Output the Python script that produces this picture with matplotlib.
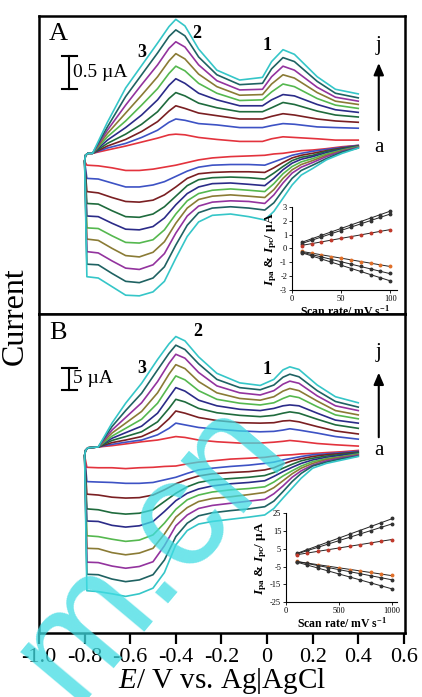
import numpy as np
import matplotlib
matplotlib.use("Agg")
import matplotlib.pyplot as plt

plt.rcParams["font.family"] = "Liberation Serif"
plt.rcParams["axes.unicode_minus"] = False
plt.rcParams["mathtext.fontset"] = "custom"
plt.rcParams["mathtext.rm"] = "Liberation Serif"
plt.rcParams["mathtext.it"] = "Liberation Serif:italic"
plt.rcParams["mathtext.bf"] = "Liberation Serif:bold"
plt.rcParams["mathtext.bfit"] = "Liberation Serif:italic:bold"

# ── voltammograms a..j (inner to outer) ─────────────────────────────────────
CURVE_COLORS = ["#e3333d", "#3d52c4", "#7a1f22", "#1f6b3d", "#2b2b88",
                "#55b84f", "#8a7b35", "#93339e", "#1f6262", "#35c6c8"]

# potential (V) at which the current is read on each sweep
LEAD_E = [-0.800, -0.796, -0.785]
ANODIC_E_A = [-0.765, -0.70, -0.62, -0.55, -0.48, -0.43, -0.40, -0.36, -0.30,
              -0.22, -0.12, -0.02, 0.02, 0.07, 0.12, 0.22, 0.30, 0.40]
ANODIC_E_B = [-0.74, -0.68, -0.62, -0.55, -0.48, -0.43, -0.40, -0.36, -0.30,
              -0.22, -0.12, -0.03, 0.03, 0.07, 0.10, 0.14, 0.22, 0.30, 0.40]
CATHODIC_E = [0.40, 0.33, 0.26, 0.20, 0.15, 0.11, 0.07, 0.03, -0.01, -0.08,
              -0.16, -0.24, -0.30, -0.35, -0.40, -0.45, -0.50, -0.56, -0.62,
              -0.68, -0.74, -0.79]

# panel A, current in uA
LEAD_I_A = [-0.12, -0.03, 0.0]
ANODIC_A = [
    [0, 0.05, 0.11, 0.17, 0.23, 0.28, 0.29, 0.28, 0.24, 0.21, 0.18, 0.18, 0.22, 0.25, 0.24, 0.22, 0.20, 0.20],
    [0, 0.08, 0.15, 0.24, 0.35, 0.47, 0.52, 0.50, 0.45, 0.43, 0.39, 0.39, 0.42, 0.45, 0.44, 0.40, 0.39, 0.38],
    [0, 0.11, 0.21, 0.33, 0.48, 0.64, 0.72, 0.68, 0.61, 0.57, 0.52, 0.52, 0.56, 0.60, 0.58, 0.52, 0.49, 0.47],
    [0, 0.15, 0.29, 0.44, 0.63, 0.83, 0.92, 0.87, 0.76, 0.69, 0.63, 0.63, 0.69, 0.77, 0.74, 0.64, 0.58, 0.55],
    [0, 0.20, 0.39, 0.58, 0.81, 1.03, 1.13, 1.06, 0.91, 0.81, 0.72, 0.72, 0.81, 0.89, 0.87, 0.74, 0.66, 0.62],
    [0, 0.25, 0.49, 0.73, 0.98, 1.21, 1.32, 1.25, 1.06, 0.91, 0.80, 0.81, 0.93, 1.05, 1.01, 0.83, 0.73, 0.68],
    [0, 0.30, 0.61, 0.88, 1.16, 1.40, 1.51, 1.43, 1.20, 1.01, 0.88, 0.89, 1.05, 1.19, 1.14, 0.92, 0.79, 0.74],
    [0, 0.35, 0.73, 1.04, 1.34, 1.59, 1.69, 1.61, 1.34, 1.10, 0.96, 0.97, 1.16, 1.32, 1.26, 1.00, 0.85, 0.79],
    [0, 0.40, 0.86, 1.19, 1.52, 1.77, 1.87, 1.78, 1.46, 1.19, 1.04, 1.06, 1.28, 1.45, 1.39, 1.09, 0.91, 0.84],
    [0, 0.47, 0.99, 1.33, 1.67, 1.92, 2.03, 1.93, 1.58, 1.26, 1.11, 1.15, 1.39, 1.57, 1.50, 1.16, 0.97, 0.90],
]
CATHODIC_A = [
    [0.12, 0.10, 0.07, 0.05, 0.04, 0.02, 0.00, -0.01, -0.03, -0.04, -0.05, -0.07, -0.10, -0.14, -0.18, -0.21, -0.24, -0.26, -0.26, -0.22, -0.19, -0.18],
    [0.12, 0.09, 0.06, 0.03, 0.00, -0.03, -0.08, -0.13, -0.18, -0.17, -0.17, -0.18, -0.21, -0.27, -0.35, -0.43, -0.48, -0.51, -0.51, -0.45, -0.39, -0.38],
    [0.11, 0.08, 0.04, 0.00, -0.03, -0.07, -0.14, -0.22, -0.29, -0.28, -0.28, -0.29, -0.31, -0.38, -0.51, -0.63, -0.71, -0.74, -0.73, -0.67, -0.60, -0.58],
    [0.11, 0.07, 0.03, -0.03, -0.06, -0.11, -0.20, -0.30, -0.39, -0.37, -0.36, -0.37, -0.40, -0.49, -0.65, -0.81, -0.92, -0.97, -0.96, -0.87, -0.77, -0.76],
    [0.10, 0.06, 0.01, -0.05, -0.09, -0.15, -0.25, -0.38, -0.49, -0.47, -0.45, -0.46, -0.51, -0.61, -0.78, -0.98, -1.11, -1.16, -1.15, -1.06, -0.96, -0.95],
    [0.10, 0.05, -0.01, -0.08, -0.13, -0.20, -0.31, -0.46, -0.58, -0.56, -0.54, -0.56, -0.61, -0.72, -0.92, -1.16, -1.31, -1.36, -1.35, -1.25, -1.14, -1.13],
    [0.09, 0.04, -0.03, -0.11, -0.17, -0.25, -0.38, -0.55, -0.67, -0.65, -0.63, -0.65, -0.70, -0.83, -1.06, -1.34, -1.50, -1.57, -1.55, -1.44, -1.32, -1.30],
    [0.09, 0.03, -0.05, -0.14, -0.21, -0.30, -0.45, -0.63, -0.76, -0.73, -0.72, -0.74, -0.80, -0.95, -1.21, -1.52, -1.69, -1.76, -1.74, -1.63, -1.51, -1.49],
    [0.08, 0.02, -0.08, -0.18, -0.26, -0.38, -0.56, -0.75, -0.86, -0.83, -0.81, -0.83, -0.90, -1.09, -1.39, -1.72, -1.89, -1.96, -1.94, -1.82, -1.69, -1.68],
    [0.08, 0.00, -0.10, -0.23, -0.33, -0.48, -0.68, -0.88, -1.01, -0.96, -0.92, -0.94, -1.04, -1.26, -1.59, -1.94, -2.10, -2.16, -2.15, -2.02, -1.89, -1.87],
]

# panel B, current in uA
LEAD_I_B = [-2.0, -0.8, -0.2]
ANODIC_B = [
    [0, 0.3, 0.7, 1.2, 1.6, 2.1, 2.4, 2.2, 1.6, 1.2, 0.9, 0.9, 1.1, 1.3, 1.5, 1.3, 0.8, 0.5, 0.2],
    [0, 0.6, 1.1, 1.6, 2.8, 4.3, 5.5, 5.1, 4.5, 4.1, 3.7, 3.5, 3.6, 3.9, 4.2, 3.9, 3.2, 2.4, 1.8],
    [0, 1.0, 1.6, 2.4, 4.1, 6.5, 8.3, 7.8, 6.8, 6.1, 5.6, 5.5, 5.6, 6.0, 6.1, 5.8, 4.7, 3.7, 3.0],
    [0, 1.5, 2.4, 3.5, 5.8, 8.9, 11.0, 10.4, 8.9, 7.9, 7.3, 7.0, 7.3, 7.8, 8.1, 7.8, 6.4, 5.1, 4.3],
    [0, 2.0, 3.3, 4.8, 7.8, 11.5, 13.7, 12.9, 10.8, 9.5, 8.7, 8.4, 8.9, 9.5, 9.7, 9.5, 7.8, 6.2, 5.5],
    [0, 2.5, 4.3, 6.4, 10.1, 14.1, 16.4, 15.5, 13.0, 11.0, 10.1, 9.7, 10.2, 11.2, 11.8, 11.4, 9.3, 7.4, 6.5],
    [0, 3.2, 5.5, 8.2, 12.5, 16.8, 19.0, 18.1, 15.1, 12.5, 11.2, 10.8, 11.6, 12.9, 13.5, 13.0, 10.6, 8.4, 7.4],
    [0, 3.9, 6.8, 10.2, 15.1, 19.3, 21.4, 20.5, 17.2, 14.1, 12.5, 12.0, 13.0, 14.5, 15.2, 14.7, 11.8, 9.5, 8.4],
    [0, 4.7, 8.4, 12.4, 17.8, 21.6, 23.5, 22.5, 19.2, 15.6, 13.7, 13.2, 14.3, 16.1, 16.8, 16.2, 13.0, 10.5, 9.2],
    [0, 5.5, 10.1, 14.7, 20.2, 23.8, 25.5, 24.5, 20.8, 17.0, 14.8, 14.2, 15.6, 17.8, 18.5, 17.9, 14.3, 11.6, 10.2],
]
CATHODIC_B = [
    [-0.8, -1.1, -1.3, -1.5, -1.6, -1.8, -1.9, -2.1, -2.4, -2.6, -2.8, -3.2, -3.5, -3.9, -4.4, -4.5, -4.7, -4.8, -5.0, -4.8, -4.8, -4.7],
    [-1.0, -1.3, -1.6, -1.8, -2.2, -2.6, -3.0, -3.5, -3.8, -4.2, -4.5, -4.9, -5.3, -6.1, -7.0, -7.6, -8.2, -8.4, -8.4, -8.2, -8.1, -8.0],
    [-1.2, -1.5, -1.8, -2.2, -2.7, -3.2, -3.9, -4.8, -5.3, -5.7, -5.9, -6.2, -6.7, -7.5, -8.5, -9.9, -11.1, -11.7, -11.8, -11.6, -11.1, -10.9],
    [-1.3, -1.7, -2.1, -2.6, -3.2, -4.0, -4.9, -5.9, -6.6, -7.0, -7.3, -7.6, -8.2, -9.2, -10.7, -12.6, -14.5, -15.3, -15.5, -15.2, -14.5, -14.3],
    [-1.5, -1.9, -2.4, -3.0, -3.8, -4.7, -5.7, -6.8, -7.8, -8.2, -8.5, -9.0, -9.7, -10.7, -12.4, -14.9, -17.2, -18.2, -18.5, -18.1, -17.2, -17.1],
    [-1.6, -2.2, -2.7, -3.4, -4.4, -5.5, -6.7, -8.1, -9.2, -9.6, -9.9, -10.4, -11.1, -12.2, -14.4, -17.6, -20.3, -21.5, -21.8, -21.3, -20.7, -20.5],
    [-1.8, -2.3, -2.9, -3.8, -4.9, -6.2, -7.8, -9.4, -10.5, -11.0, -11.5, -11.9, -12.6, -14.0, -16.2, -20.1, -23.4, -24.5, -24.9, -24.4, -23.5, -23.4],
    [-1.9, -2.5, -3.2, -4.2, -5.5, -7.0, -9.0, -10.8, -12.1, -12.5, -13.0, -13.5, -14.2, -15.7, -18.2, -22.8, -26.5, -27.6, -28.0, -27.5, -26.7, -26.6],
    [-2.1, -2.7, -3.5, -4.4, -6.1, -8.0, -10.3, -12.5, -13.8, -14.3, -14.7, -15.2, -15.9, -17.6, -20.7, -26.1, -29.5, -30.7, -31.1, -30.5, -29.5, -29.4],
    [-2.2, -3.0, -3.8, -4.9, -7.2, -9.5, -11.8, -14.2, -15.7, -16.2, -16.7, -17.2, -17.8, -19.3, -22.6, -29.0, -32.6, -33.9, -34.5, -33.9, -33.4, -33.2],
]

# ── insets: peak currents vs scan rate ──────────────────────────────────────
RATE_A = [10, 20, 30, 40, 50, 60, 70, 80, 90, 100]
IPA_A = [
    [0.45, 0.70, 0.95, 1.20, 1.45, 1.70, 1.95, 2.20, 2.45, 2.70],
    [0.35, 0.60, 0.85, 1.05, 1.30, 1.55, 1.80, 2.00, 2.25, 2.50],
    [0.20, 0.35, 0.50, 0.60, 0.75, 0.85, 1.00, 1.10, 1.25, 1.35],
]
IPC_A = [
    [-0.20, -0.35, -0.45, -0.60, -0.70, -0.80, -0.95, -1.05, -1.20, -1.30],
    [-0.25, -0.45, -0.60, -0.80, -0.95, -1.15, -1.30, -1.50, -1.65, -1.80],
    [-0.30, -0.55, -0.75, -1.00, -1.20, -1.45, -1.65, -1.90, -2.10, -2.35],
]
RATE_B = [100, 200, 300, 400, 500, 600, 700, 800, 900, 1000]
IPA_B = [
    [2.5, 4.5, 6.5, 8.8, 11.0, 13.0, 15.0, 17.5, 19.5, 22.0],
    [2.0, 4.0, 5.8, 7.6, 9.5, 11.3, 13.2, 15.0, 17.0, 19.0],
    [1.5, 2.5, 3.5, 4.5, 5.5, 6.5, 7.3, 8.2, 9.2, 10.0],
]
IPC_B = [
    [-2.0, -3.0, -4.0, -5.0, -5.8, -6.7, -7.5, -8.3, -9.2, -10.0],
    [-2.2, -3.3, -4.5, -5.6, -6.7, -7.8, -9.0, -10.1, -11.3, -12.5],
    [-2.5, -4.2, -5.8, -7.5, -9.2, -10.8, -12.5, -14.2, -15.8, -17.5],
]
ANODIC_MARKERS = ["#333333", "#333333", "#c0392b"]
CATHODIC_MARKERS = ["#e0702a", "#333333", "#333333"]

E_TICKS = [-1.0, -0.8, -0.6, -0.4, -0.2, 0.0, 0.2, 0.4, 0.6]
E_TICK_LABELS = ["-1.0", "-0.8", "-0.6", "-0.4", "-0.2", "0", "0.2", "0.4", "0.6"]


def draw_cvs(ax, an_e, an_i, cat_i, lead_i):
    for k, color in enumerate(CURVE_COLORS):
        xs = CATHODIC_E + LEAD_E + an_e
        ys = cat_i[k] + lead_i + an_i[k]
        ax.plot(xs, ys, color=color, lw=1.2, solid_joinstyle="round", zorder=2 + k * 0.01)


def draw_inset(rect, rates, ipa, ipc, xticks, yticks, xlim, ylim):
    ins = fig.add_axes(rect)
    ends = [rates[0], rates[-1]]
    for series, colors in ((ipa, ANODIC_MARKERS), (ipc, CATHODIC_MARKERS)):
        for vals, mc in zip(series, colors):
            fit = np.polyfit(rates, vals, 1)
            ins.plot(ends, np.polyval(fit, ends), color="#222222", lw=0.7)
            ins.plot(rates, vals, "o", ms=1.8, color=mc, mec=mc)
    ins.set_xlim(*xlim)
    ins.set_ylim(*ylim)
    ins.set_xticks(xticks)
    ins.set_yticks(yticks)
    ins.tick_params(labelsize=6, length=2, width=0.6, pad=1.5)
    for s in ["top", "right"]:
        ins.spines[s].set_visible(False)
    for s in ["left", "bottom"]:
        ins.spines[s].set_linewidth(0.8)
    ins.patch.set_alpha(0)
    ins.set_xlabel(r"Scan rate/ mV s$^{\mathbf{-1}}$", fontsize=8.5, fontweight="bold", labelpad=0.5)
    ins.set_ylabel(r"$\mathbfit{I}_{\mathbf{pa}}$ & $\mathbfit{I}_{\mathbf{pc}}$/ µA",
                   fontsize=9.5, fontweight="bold", labelpad=0.5)
    return ins


fig = plt.figure(figsize=(4.22, 6.97), dpi=100)
axA = fig.add_axes([0.0924, 0.5495, 0.8673, 0.4275])
axB = fig.add_axes([0.0924, 0.0918, 0.8673, 0.4577], sharex=axA)

draw_cvs(axA, ANODIC_E_A, ANODIC_A, CATHODIC_A, LEAD_I_A)
draw_cvs(axB, ANODIC_E_B, ANODIC_B, CATHODIC_B, LEAD_I_B)

axA.set_ylim(-2.435, 2.08)
axB.set_ylim(-42.96, 30.7)
axB.set_xlim(-1.0, 0.605)
axB.set_xticks(E_TICKS)
axB.set_xticklabels(E_TICK_LABELS)

for ax in (axA, axB):
    for s in ax.spines.values():
        s.set_linewidth(1.8)
    ax.set_yticks([])
axA.tick_params(axis="x", bottom=False, labelbottom=False)
axB.tick_params(axis="x", direction="out", length=8, width=1.6, labelsize=16, pad=3)
axB.set_xlabel(r"$E$/ V vs. Ag|AgCl", fontsize=21, labelpad=-1)
fig.text(0.035, 0.547, "Current", rotation=90, fontsize=23, ha="center", va="center")

# panel letters, peak numbers, scale bars, sweep arrows
axA.text(0.052, 0.94, "A", transform=axA.transAxes, fontsize=19, ha="center", va="center")
axB.text(0.052, 0.94, "B", transform=axB.transAxes, fontsize=19, ha="center", va="center")
for ax, pos in ((axA, [(-0.548, 1.52), (-0.307, 1.82), (0.0, 1.64)]),
                (axB, [(-0.548, 18.2), (-0.303, 26.6), (0.0, 17.8)])):
    for lab, (x, y) in zip(["3", "2", "1"], pos):
        ax.text(x, y, lab, fontsize=13, fontweight="bold", ha="center", va="center")

for ax, (y0, y1), lab, cap in ((axA, (0.97, 1.47), "0.5 µA", 0.032),
                               (axB, (13.2, 18.2), "5 µA", 0.032)):
    ax.plot([-0.867, -0.867], [y0, y1], color="k", lw=1.5)
    ax.plot([-0.867 - cap, -0.867 + cap], [y0, y0], color="k", lw=1.5)
    ax.plot([-0.867 - cap, -0.867 + cap], [y1, y1], color="k", lw=1.5)
    ax.text(-0.852, (y0 + y1) / 2, lab, fontsize=14, ha="left", va="center")

for ax, (y0, y1), (yj, ya) in ((axA, (0.31, 1.41), (1.64, 0.09)),
                               (axB, (1.6, 17.8), (21.9, -0.9))):
    ax.annotate("", xy=(0.49, y1), xytext=(0.49, y0),
                arrowprops=dict(arrowstyle="-|>,head_length=0.7,head_width=0.3",
                                color="k", lw=1.5))
    ax.text(0.49, yj, "j", fontsize=15, ha="center", va="center")
    ax.text(0.49, ya, "a", fontsize=15, ha="center", va="center")

draw_inset([0.692, 0.584, 0.249, 0.119], RATE_A, IPA_A, IPC_A,
           [0, 50, 100], [-3, -2, -1, 0, 1, 2, 3], (0, 107), (-3, 3))
draw_inset([0.678, 0.136, 0.263, 0.128], RATE_B, IPA_B, IPC_B,
           [0, 500, 1000], [-25, -15, -5, 5, 15, 25], (0, 1050), (-25, 25))

# site stamp running diagonally over the lower panel
fig.text(150 / 422, 1 - 550 / 697, "m.cn", fontsize=112, family="Liberation Sans",
         color="#40dce3", alpha=0.75, rotation=50, rotation_mode="anchor",
         ha="center", va="center", zorder=10)

fig.savefig("out.png", dpi=100)
